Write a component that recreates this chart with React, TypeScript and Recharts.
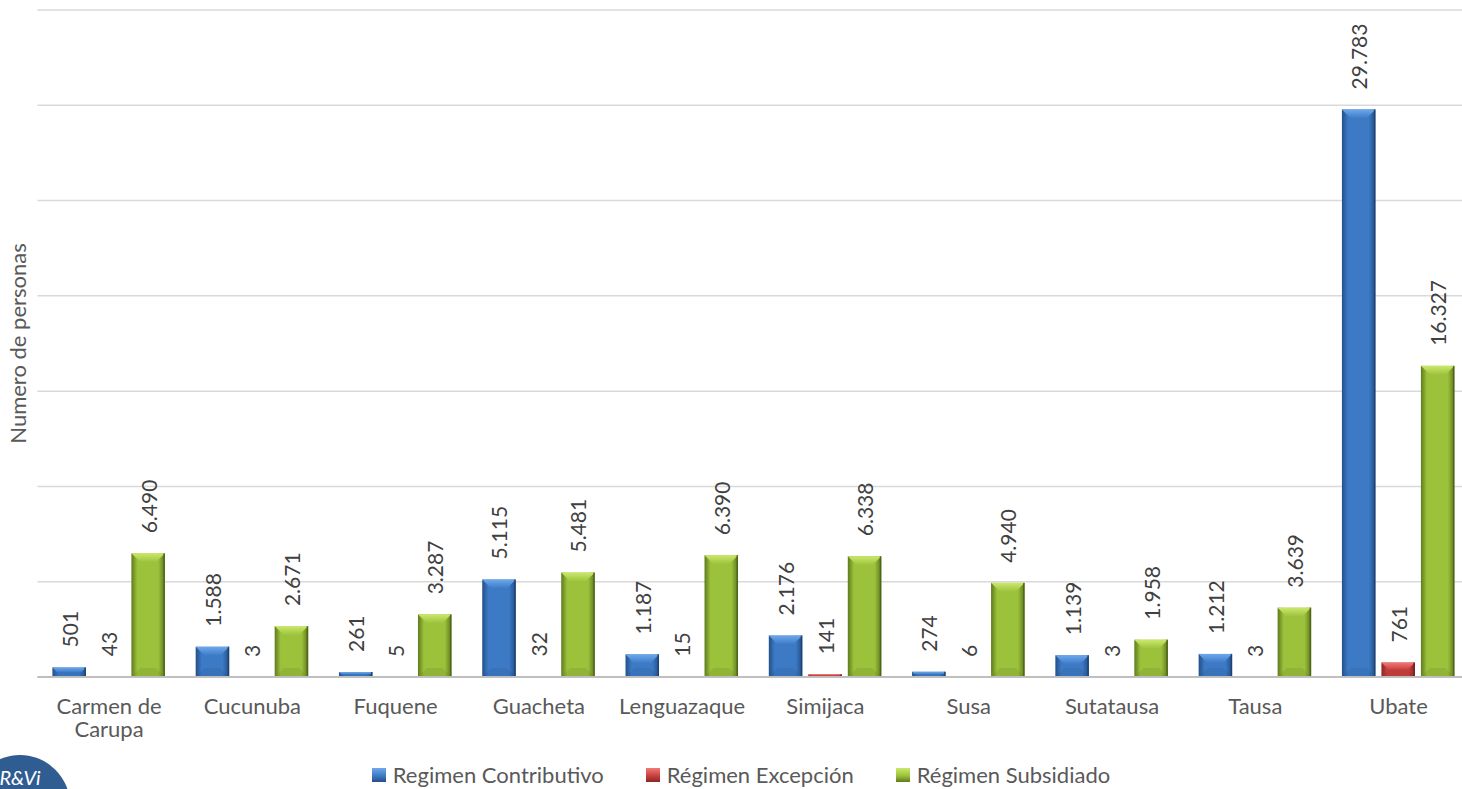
import React from 'react';
import {
  BarChart,
  Bar,
  XAxis,
  YAxis,
  CartesianGrid,
  LabelList,
} from 'recharts';

const categories = [
  'Carmen de Carupa',
  'Cucunuba',
  'Fuquene',
  'Guacheta',
  'Lenguazaque',
  'Simijaca',
  'Susa',
  'Sutatausa',
  'Tausa',
  'Ubate',
];
const contributivo = [501, 1588, 261, 5115, 1187, 2176, 274, 1139, 1212, 29783];
const excepcion = [43, 3, 5, 32, 15, 141, 6, 3, 3, 761];
const subsidiado = [6490, 2671, 3287, 5481, 6390, 6338, 4940, 1958, 3639, 16327];
const yTicks = [0, 5000, 10000, 15000, 20000, 25000, 30000, 35000];

const seriesNames = ['Regimen Contributivo', 'Régimen Excepción', 'Régimen Subsidiado'];

const data = categories.map((c, i) => ({
  name: c,
  contributivo: contributivo[i],
  excepcion: excepcion[i],
  subsidiado: subsidiado[i],
}));

const palette = {
  blue: { id: 'blue', base: '#3d7ac6', light: '#6ea8ec', dark: '#234f87', edge: '#1d3f6b' },
  red: { id: 'red', base: '#c9413e', light: '#f07a77', dark: '#8a2624', edge: '#6e1e1c' },
  green: { id: 'green', base: '#9cc23c', light: '#cbe86c', dark: '#5f7a1d', edge: '#4a5f16' },
};

const FONT = 'Lato, "Open Sans", sans-serif';

const fmt = (v: number) => String(v).replace(/\B(?=(\d{3})+(?!\d))/g, '.');

const bevelBar = (c: typeof palette.blue) => (props: any) => {
  const { x, y, width: w, height: h } = props;
  if (!h || h <= 0.3) return <g />;
  const b = Math.min(9, w / 3, h / 2);
  return (
    <g>
      <rect x={x} y={y} width={w} height={h} fill={`url(#grad-${c.id})`} />
      <polygon
        points={`${x},${y} ${x + w},${y} ${x + w - b},${y + b} ${x + b},${y + b}`}
        fill={`url(#top-${c.id})`}
      />
      <polygon
        points={`${x},${y + h} ${x + w},${y + h} ${x + w - b},${y + h - b} ${x + b},${y + h - b}`}
        fill={c.dark}
        opacity={0.18}
      />
      <rect x={x + w - 1.5} y={y} width={1.5} height={h} fill={c.edge} opacity={0.8} />
    </g>
  );
};

const ValueLabel = (props: any) => {
  const { x, y, width, value } = props;
  const cx = x + width / 2;
  const ty = y - 20;
  return (
    <text
      x={cx}
      y={ty}
      transform={`rotate(-90, ${cx}, ${ty})`}
      textAnchor="start"
      dominantBaseline="central"
      fill="#404040"
      fontSize={21}
      fontFamily={FONT}
    >
      {fmt(value)}
    </text>
  );
};

const CatTick = (props: any) => {
  const { x, y, payload } = props;
  const lines = payload.value === 'Carmen de Carupa' ? ['Carmen de', 'Carupa'] : [payload.value];
  return (
    <g>
      {lines.map((l: string, i: number) => (
        <text
          key={i}
          x={x}
          y={y + i * 23}
          dy="0.71em"
          textAnchor="middle"
          fill="#595959"
          fontSize={22}
          fontFamily={FONT}
        >
          {l}
        </text>
      ))}
    </g>
  );
};

const NoTick = () => <g />;

const legendColors = [palette.blue, palette.red, palette.green];

export default function App() {
  return (
    <div
      style={{
        position: 'absolute',
        left: 0,
        top: 0,
        width: 1462,
        height: 789,
        overflow: 'hidden',
        background: '#fff',
        fontFamily: FONT,
      }}
    >
      <BarChart
        width={1472}
        height={789}
        data={data}
        margin={{ top: 10, right: 1.8, left: 0, bottom: 52 }}
        barGap={6}
        barSize={33.5}
      >
        <defs>
          {Object.values(palette).map((c) => (
            <linearGradient key={c.id} id={`grad-${c.id}`} x1="0" y1="0" x2="1" y2="0">
              <stop offset="0%" stopColor={c.dark} />
              <stop offset="18%" stopColor={c.base} />
              <stop offset="80%" stopColor={c.base} />
              <stop offset="100%" stopColor={c.dark} />
            </linearGradient>
          ))}
          {Object.values(palette).map((c) => (
            <linearGradient key={`t${c.id}`} id={`top-${c.id}`} x1="0" y1="0" x2="0" y2="1">
              <stop offset="0%" stopColor={c.light} />
              <stop offset="100%" stopColor={c.base} />
            </linearGradient>
          ))}
        </defs>
        <CartesianGrid vertical={false} stroke="#d9d9d9" strokeWidth={1.5} />
        <XAxis
          dataKey="name"
          height={60}
          tickLine={false}
          tickMargin={15}
          axisLine={{ stroke: '#bfbfbf', strokeWidth: 2 }}
          tick={<CatTick />}
          interval={0}
        />
        <YAxis
          width={37.4}
          domain={[0, 35000]}
          ticks={yTicks}
          interval={0}
          tick={<NoTick />}
          tickLine={false}
          axisLine={false}
          label={{
            value: 'Numero de personas',
            angle: -90,
            position: 'center',
            fill: '#595959',
            fontSize: 22,
            fontFamily: FONT,
          }}
        />
        <Bar dataKey="contributivo" name={seriesNames[0]} shape={bevelBar(palette.blue)} isAnimationActive={false}>
          <LabelList dataKey="contributivo" content={<ValueLabel />} />
        </Bar>
        <Bar dataKey="excepcion" name={seriesNames[1]} shape={bevelBar(palette.red)} isAnimationActive={false}>
          <LabelList dataKey="excepcion" content={<ValueLabel />} />
        </Bar>
        <Bar dataKey="subsidiado" name={seriesNames[2]} shape={bevelBar(palette.green)} isAnimationActive={false}>
          <LabelList dataKey="subsidiado" content={<ValueLabel />} />
        </Bar>
      </BarChart>

      <div
        style={{
          position: 'absolute',
          left: 0,
          width: 1482,
          top: 763,
          display: 'flex',
          justifyContent: 'center',
          gap: 42,
          fontSize: 22,
          color: '#595959',
          lineHeight: '24px',
        }}
      >
        {seriesNames.map((n, i) => (
          <div key={n} style={{ display: 'flex', alignItems: 'center', gap: 7 }}>
            <span
              style={{
                display: 'inline-block',
                width: 14,
                height: 14,
                background: `linear-gradient(180deg, ${legendColors[i].light}, ${legendColors[i].base} 55%, ${legendColors[i].dark})`,
              }}
            />
            <span>{n}</span>
          </div>
        ))}
      </div>

      <div
        style={{
          position: 'absolute',
          left: -30,
          top: 755,
          width: 100,
          height: 100,
          borderRadius: '50%',
          background: '#2f5d92',
          color: '#fff',
          fontStyle: 'italic',
          fontSize: 20,
          textAlign: 'center',
          lineHeight: '44px',
        }}
      >
        R&amp;Vi
      </div>
    </div>
  );
}
